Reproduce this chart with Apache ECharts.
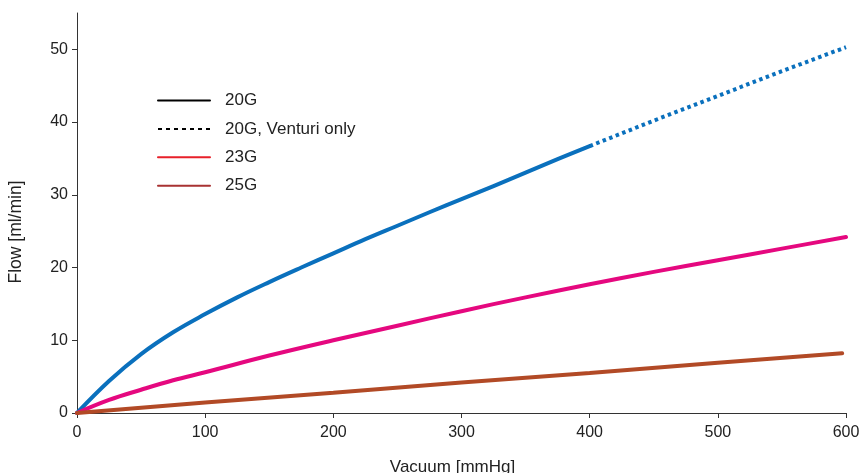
<!DOCTYPE html>
<html>
<head>
<meta charset="utf-8">
<script src="https://cdn.jsdelivr.net/npm/echarts@6/dist/echarts.min.js"></script>
<style>
  html, body { margin: 0; padding: 0; background: #fff; }
  #chart { width: 860px; height: 473px; }
</style>
</head>
<body>
<div id="chart"></div>
<script>
// values
var vac20G = [0, 25, 50, 75, 100, 125, 150, 175, 200, 225, 250, 275, 300, 325, 350, 375, 400];
var flow20G = [0, 4.4, 8.1, 11.1, 13.6, 15.9, 18.0, 20.0, 21.95, 23.9, 25.75, 27.6, 29.4, 31.2, 33.05, 34.9, 36.7];
var vacVenturi = [400, 450, 500, 550, 600];
var flowVenturi = [36.7, 40.2, 43.6, 47.0, 50.3];
var vac23G = [0, 25, 50, 75, 100, 150, 200, 250, 300, 350, 400, 450, 500, 550, 600];
var flow23G = [0, 1.8, 3.2, 4.5, 5.6, 7.9, 10.0, 12.0, 14.0, 15.9, 17.7, 19.4, 21.0, 22.6, 24.2];
var vac25G = [0, 100, 200, 300, 400, 500, 597];
var flow25G = [0, 1.45, 2.8, 4.2, 5.5, 6.9, 8.2];
var yTicks = [0, 10, 20, 30, 40, 50];

function pairs(xs, ys) {
    return xs.map(function (x, i) { return [x, ys[i]]; });
}

var font = 'Liberation Sans, Arial, Helvetica, sans-serif';
var chart = echarts.init(document.getElementById('chart'));

chart.setOption({
    animation: false,
    grid: { left: 77, right: 14, top: 13, bottom: 60, outerBoundsMode: 'none', containLabel: false },
    legend: {
        orient: 'vertical',
        left: 152,
        top: 87,
        itemWidth: 52,
        itemHeight: 14,
        itemGap: 11.4,
        textStyle: { fontFamily: font, fontSize: 17, color: '#222', padding: [0, 0, 0, 10] },
        data: [
            { name: '20G', itemStyle: { opacity: 0 }, lineStyle: { color: '#000', width: 2, type: 'solid' } },
            { name: '20G, Venturi only', itemStyle: { opacity: 0 }, lineStyle: { color: '#000', width: 2, type: [4, 4] } },
            { name: '23G', itemStyle: { opacity: 0 }, lineStyle: { color: '#e8202a', width: 2, type: 'solid' } },
            { name: '25G', itemStyle: { opacity: 0 }, lineStyle: { color: '#a83232', width: 2, type: 'solid' } }
        ]
    },
    xAxis: {
        type: 'value',
        min: 0,
        max: 600,
        interval: 100,
        name: 'Vacuum [mmHg]',
        nameLocation: 'middle',
        nameGap: 46,
        nameTextStyle: { fontFamily: font, fontSize: 17, color: '#222', padding: [0, 18, 0, 0] },
        axisLine: { lineStyle: { color: '#333', width: 1 } },
        axisTick: { show: true, length: 5, lineStyle: { color: '#333' } },
        axisLabel: { fontFamily: font, fontSize: 16, color: '#222', margin: 12 },
        splitLine: { show: false }
    },
    yAxis: {
        type: 'value',
        min: 0,
        max: 55,
        name: 'Flow [ml/min]',
        nameLocation: 'middle',
        nameGap: 52,
        nameTextStyle: { fontFamily: font, fontSize: 17.5, color: '#222', padding: [0, 38, 0, 0] },
        axisLine: { show: true, lineStyle: { color: '#333', width: 1 } },
        axisTick: { show: true, length: 5, lineStyle: { color: '#333' }, customValues: yTicks },
        axisLabel: { fontFamily: font, fontSize: 16, color: '#222', margin: 9, customValues: yTicks },
        splitLine: { show: false }
    },
    series: [
        {
            name: '20G',
            type: 'line',
            smooth: 0.4,
            symbol: 'none',
            data: pairs(vac20G, flow20G),
            lineStyle: { color: '#0a70bd', width: 4, cap: 'round', join: 'round' },
            itemStyle: { color: '#000' }
        },
        {
            name: '20G, Venturi only',
            type: 'line',
            symbol: 'none',
            data: pairs(vacVenturi, flowVenturi),
            lineStyle: { color: '#0a70bd', width: 4, type: [3.5, 3.5] },
            itemStyle: { color: '#000' }
        },
        {
            name: '23G',
            type: 'line',
            smooth: 0.4,
            symbol: 'none',
            data: pairs(vac23G, flow23G),
            lineStyle: { color: '#e5087f', width: 4, cap: 'round', join: 'round' },
            itemStyle: { color: '#e8202a' }
        },
        {
            name: '25G',
            type: 'line',
            symbol: 'none',
            data: pairs(vac25G, flow25G),
            lineStyle: { color: '#b24a26', width: 4, cap: 'round' },
            itemStyle: { color: '#a83232' }
        }
    ]
});
</script>
</body>
</html>
